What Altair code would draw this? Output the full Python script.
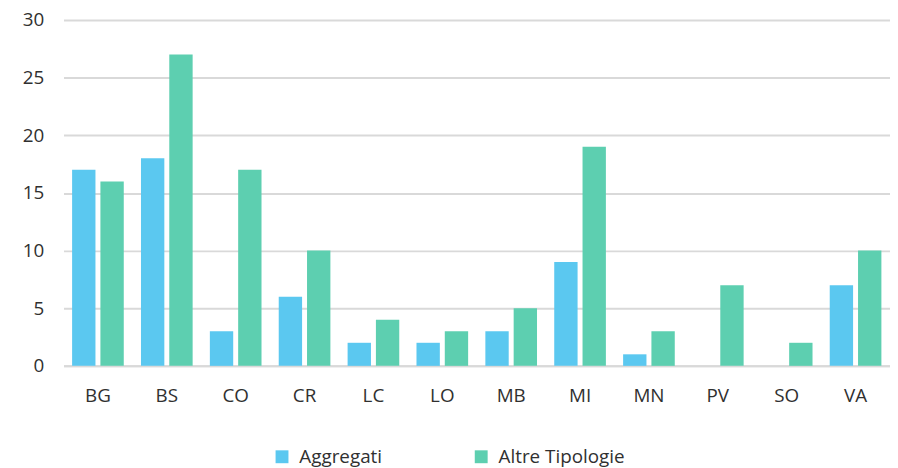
import altair as alt
import pandas as pd

categories = ["BG", "BS", "CO", "CR", "LC", "LO", "MB", "MI", "MN", "PV", "SO", "VA"]
aggregati = [17, 18, 3, 6, 2, 2, 3, 9, 1, 0, 0, 7]
altre = [16, 27, 17, 10, 4, 3, 5, 19, 3, 7, 2, 10]
series = ["Aggregati", "Altre Tipologie"]
colors = ["#5BC8F0", "#5DCFB0"]

rows = []
for c, a, b in zip(categories, aggregati, altre):
    rows.append({"cat": c, "serie": series[0], "val": a})
    rows.append({"cat": c, "serie": series[1], "val": b})
df = pd.DataFrame(rows)

font = "Open Sans"
fs = 19
tc = "#303030"

chart = alt.Chart(df).mark_bar().encode(
    x=alt.X("cat:N", sort=categories, title=None,
            scale=alt.Scale(paddingInner=0.25, paddingOuter=0.125),
            axis=alt.Axis(labelAngle=0, ticks=False, domain=True, domainColor="#d9d9d9",
                          domainWidth=2, labelPadding=21, labelFontSize=fs,
                          labelFont=font, labelColor=tc)),
    xOffset=alt.XOffset("serie:N", sort=series, scale=alt.Scale(paddingInner=0.175)),
    y=alt.Y("val:Q", title=None,
            scale=alt.Scale(domain=[0, 30]),
            axis=alt.Axis(values=[0, 5, 10, 15, 20, 25, 30], ticks=False, domain=False,
                          gridColor="#d9d9d9", gridWidth=2, labelPadding=20,
                          labelFontSize=fs, labelFont=font, labelColor=tc)),
    color=alt.Color("serie:N", sort=series,
                    scale=alt.Scale(domain=series, range=colors),
                    legend=alt.Legend(title=None, orient="none", direction="horizontal",
                                      legendX=211, legendY=431, symbolType="square",
                                      symbolSize=169, symbolStrokeWidth=0, labelFontSize=fs,
                                      labelFont=font, labelColor=tc, columnPadding=90,
                                      labelOffset=8, padding=0)),
).properties(
    width=834, height=349,
    autosize=alt.AutoSizeParams(type="none"),
    padding={"left": 56, "top": 10, "right": 0, "bottom": 101},
).configure_view(stroke=None)

chart.save("out.html", embed_options={"renderer": "svg", "actions": False})
